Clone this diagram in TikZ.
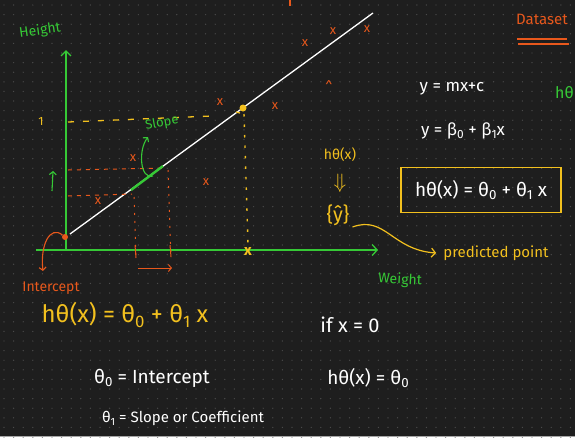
\documentclass[tikz,border=0pt]{standalone}
\usepackage{fontspec}
\setmainfont{Fira Sans}
\usetikzlibrary{arrows.meta}
\definecolor{bg}{HTML}{1E1E1E}
\definecolor{gdot}{HTML}{4A4A4A}
\definecolor{gr}{HTML}{36C936}
\definecolor{orr}{HTML}{E8581C}
\definecolor{yl}{HTML}{F2C01E}
\newcommand{\lsub}[1]{\raisebox{-0.35ex}{\scalebox{0.7}{#1}}}
\tikzset{
  txt/.style={inner sep=0pt, font=\fontsize{#1}{#1}\selectfont},
  txt/.default=14,
  pt/.style={orr, font=\fontsize{13}{13}\selectfont, inner sep=0pt},
  axis/.style={gr, line width=1.3pt},
  odash/.style={orr, line width=1pt, dash pattern=on 4pt off 5pt},
  odot/.style={orr, line width=1pt, dash pattern=on 2pt off 6pt},
  ydash/.style={yl, line width=1.3pt, dash pattern=on 6pt off 9pt},
  ydot/.style={yl, line width=1.4pt, dash pattern=on 2.5pt off 8pt},
}
\begin{document}
\begin{tikzpicture}[x=1pt,y=-1pt]
\useasboundingbox (0,0) rectangle (575,437);
\fill[bg] (0,0) rectangle (575,437);
\foreach \i in {0,...,60} {\foreach \j in {0,...,45} {
  \fill[gdot] (4+\i*9.6, 5+\j*9.6) circle (0.7);
}}
\draw[gray!70, line width=1pt] (0,436.5) -- (575,436.5);

% axes
\coordinate (yb) at (66,250);
\coordinate (yt) at (66,50);
\coordinate (xl) at (36,250);
\coordinate (xr) at (378,250);
\draw[axis, -{Straight Barb[length=5pt,width=10pt]}] (yb) -- (yt);
\draw[axis, -{Straight Barb[length=5pt,width=11pt]}] (xl) -- (xr);
\node[gr, txt=14, rotate=8] (height) at (40,31) {Height};
\node[gr, txt=14, rotate=-3] (weight) at (400,280) {Weight};

% regression line
\coordinate (ls) at (70,234);
\coordinate (le) at (373,13);
\draw[white, line width=1.3pt] (ls) -- (le);
\node[circle, fill=orr, inner sep=0pt, minimum size=6pt] (icp) at (65,237) {};
\node[circle, fill=yl, inner sep=0pt, minimum size=7pt] (yd) at (243,108) {};

% yellow guides
\node[yl, txt=12] (one) at (41,121) {1};
\coordinate (yh1) at (68,122);
\coordinate (yh2) at (212,116);
\draw[ydash] (yh1) -- (yh2);
\coordinate (yv2) at (248,244);
\draw[ydot] (yd) ++(1,6) coordinate (yv1) -- (yv2);
\node[yl, font=\bfseries\fontsize{15}{15}\selectfont, inner sep=0pt] (yx) at (248,252) {x};
\draw[yl, line width=1.3pt] (236,112) -- (240,113);

% orange guides
\coordinate (oh1) at (68,170); \coordinate (oh2) at (166,168);
\coordinate (oh3) at (68,196); \coordinate (oh4) at (132,194);
\draw[odash] (oh1) -- (oh2);
\draw[odash] (oh3) -- (oh4);
\coordinate (ov1) at (134,197); \coordinate (ov2) at (136,258);
\coordinate (ov3) at (168,170); \coordinate (ov4) at (171,258);
\draw[odot] (ov1) -- (ov2);
\draw[odot] (ov3) -- (ov4);
\draw[orr, line width=1pt] (135,245) -- (136,258);
\draw[orr, line width=1pt] (170,245) -- (171,257);
\coordinate (oa1) at (138,268); \coordinate (oa2) at (172,268);
\draw[orr, line width=1pt, -{Straight Barb[length=3pt,width=7pt]}] (oa1) -- (oa2);

% slope marker
\coordinate (gs1) at (131,190); \coordinate (gs2) at (163,166);
\draw[gr, line width=2.4pt] (gs1) -- (gs2);
\coordinate (gc1) at (153,176); \coordinate (gc2) at (148,137);
\draw[gr, line width=1.1pt, -{Straight Barb[length=3pt,width=7pt]}] (gc1) .. controls (140,180) and (138,150) .. (gc2);
\node[gr, txt=13, rotate=10] (slope) at (162,123) {Slope};
\coordinate (ga1) at (52,191); \coordinate (ga2) at (53,171);
\draw[gr, line width=1.1pt, -{Straight Barb[length=3pt,width=7pt]}] (ga1) -- (ga2);

% intercept
\coordinate (ia) at (43,271);
\draw[orr, line width=1.1pt, -{Straight Barb[length=3pt,width=7pt]}] (icp) .. controls (50,225) and (40,245) .. (ia);
\node[orr, txt=14] (intercept) at (51,288) {Intercept};

% data points
\node[pt] (p1) at (220,102) {x};
\node[pt] (p2) at (275,106) {x};
\node[pt] (p3) at (305,43) {x};
\node[pt] (p4) at (333,31) {x};
\node[pt] (p5) at (367,29) {x};
\node[pt] (p6) at (329,86) {\^{}};
\node[pt] (p7) at (133,158) {x};
\node[pt] (p8) at (98,201) {x};
\node[pt] (p9) at (206,182) {x};
\draw[orr, line width=1.1pt] (290,0) -- (290,6);

% right column
\node[orr, txt=15] (dataset) at (542,19) {Dataset};
\coordinate (u1) at (517,39); \coordinate (u2) at (567,39);
\coordinate (u3) at (518,44); \coordinate (u4) at (569,44);
\draw[orr, line width=1.1pt] (u1) -- (u2);
\draw[orr, line width=1.1pt] (u3) -- (u4);
\node[gr, txt=16, anchor=west] (hocut) at (555,93) {hθ};
\node[white, txt=17] (eq1) at (452,89) {y = mx+c};
\node[white, txt=17] (eq2) at (463,131) {y = β\lsub{0} + β\lsub{1}x};
\node[draw=yl, line width=1.3pt, text=white, txt=19, minimum width=160pt, minimum height=45pt] (box) at (481,190) {hθ(x) = θ\lsub{0} + θ\lsub{1} x};

\node[yl, txt=14] (hx) at (340,155) {hθ(x)};
\node[yl, txt=20] (darr) at (340,183) {$\Downarrow$};
\node[yl, txt=20] (yhat) at (338,215) {\{ŷ\}};
\node[yl, txt=15] (pred) at (496,253) {predicted point};
\draw[yl, line width=1.2pt, -{Straight Barb[length=4pt,width=9pt]}] (yhat.east) ++(3,12) .. controls (385,215) and (392,250) .. ([xshift=-7pt]pred.west);

% bottom
\node[yl, txt=24] (fbot) at (125,315) {hθ(x) = θ\lsub{0} + θ\lsub{1} x};
\node[white, txt=20] (ifx) at (350,325) {if x = 0};
\node[white, txt=19] (t0) at (152,378) {θ\lsub{0} = Intercept};
\node[white, txt=19] (hz) at (368,378) {hθ(x) = θ\lsub{0}};
\node[white, txt=15] (t1) at (183,418) {θ\lsub{1} = Slope or Coefficient};
\end{tikzpicture}
\end{document}
